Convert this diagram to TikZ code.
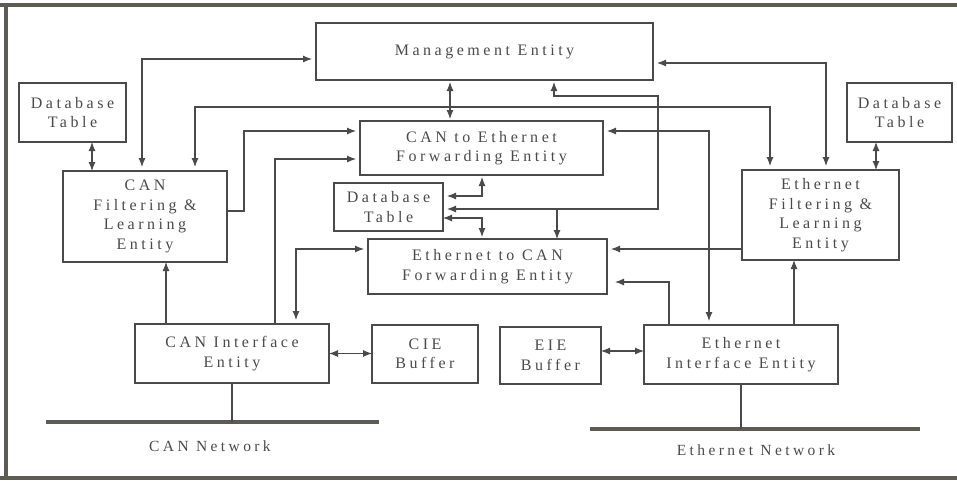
\documentclass[tikz,border=0pt]{standalone}
\usepackage{fontspec}
\newfontfamily\entfont[LetterSpace=22]{Liberation Serif}
\usepackage{tikz}
\usetikzlibrary{arrows.meta}
\definecolor{inkgray}{HTML}{4A4A4A}
\definecolor{framegray}{HTML}{5C5C54}
\tikzset{entity/.style={
        draw=inkgray, line width=1.5pt, inner sep=0pt, outer sep=0pt,
        align=center, text=inkgray,
        font=\entfont\fontsize{16}{19.5}\selectfont
    },
    link/.style={draw=inkgray, line width=1.1pt, >={Latex[length=9pt,width=7pt]}},
    farlink/.style={link, shorten >=4pt},
    bus/.style={draw=framegray, line width=4pt},
    netlabel/.style={text=inkgray, font=\entfont\fontsize{15.5}{18}\selectfont}
}

\begin{document}
\begin{tikzpicture}[x=1pt,y=-1pt]
           \useasboundingbox (0,0) rectangle (957,480);
           \draw[bus] (0,5) -- (957,5);
           \draw[bus] (5.5,3) -- (5.5,478);
           \draw[bus] (0,478) -- (957,478);
           \node[entity,minimum width=337pt,minimum height=57pt] (mgmt) at (484.5,51.5) {Management Entity};
           \node[entity,minimum width=107pt,minimum height=59pt] (dbleft) at (72.5,112.5) {Database\\Table};
           \node[entity,minimum width=105pt,minimum height=59pt] (dbright) at (899.5,112.5) {Database\\Table};
           \node[entity,minimum width=243pt,minimum height=54pt] (cantoeth) at (481.5,148) {CAN to Ethernet\\Forwarding Entity};
           \node[entity,minimum width=164pt,minimum height=91pt] (canfl) at (145,216.5) {CAN\\Filtering \&\\Learning\\Entity};
           \node[entity,minimum width=109pt,minimum height=48pt] (dbmid) at (388.5,207) {Database\\Table};
           \node[entity,minimum width=239pt,minimum height=55pt] (ethtocan) at (487.5,266.5) {Ethernet to CAN\\Forwarding Entity};
           \node[entity,minimum width=157pt,minimum height=90pt] (ethfl) at (820.5,215) {Ethernet\\Filtering \&\\Learning\\Entity};
           \node[entity,minimum width=194pt,minimum height=59pt] (canif) at (232,353.5) {CAN Interface\\Entity};
           \node[entity,minimum width=106pt,minimum height=58pt] (ciebuf) at (425,354) {CIE\\Buffer};
           \node[entity,minimum width=101pt,minimum height=57pt] (eiebuf) at (550.5,355.5) {EIE\\Buffer};
           \node[entity,minimum width=194pt,minimum height=59pt] (ethif) at (741,354.5) {Ethernet\\Interface Entity};
           \coordinate (canbusL) at (46,422);
           \coordinate (canbusR) at (379,422);
           \coordinate (ethbusL) at (590,429);
           \coordinate (ethbusR) at (920,429);
           \draw[bus] (canbusL) -- (canbusR);
           \draw[bus] (ethbusL) -- (ethbusR);
           \node[netlabel] (cannet) at (210,446) {CAN Network};
           \node[netlabel] (ethnet) at (756,450) {Ethernet Network};
           \draw[link] (canif.south) -- (canif.south |- canbusL);
           \draw[link] (ethif.south) -- (ethif.south |- ethbusL);
           % left side
           \draw[farlink,<->,shorten <=4pt] ([xshift=-3pt]canfl.north) |- ([yshift=-7.5pt]mgmt.west);
           \draw[link,<->,shorten <=2pt,shorten >=2pt] ([xshift=-34.5pt]mgmt.south) -- ([xshift=-31.5pt]cantoeth.north);
           \draw[farlink,<->,shorten <=4pt] ([xshift=50pt]canfl.north) -- ++(0,-64) -| ([xshift=-50.5pt]ethfl.north);
           \draw[farlink,->] ([yshift=5.5pt]canfl.east) -- ++(17,0) |- ([yshift=17pt]cantoeth.west);
           \draw[farlink,->] ([xshift=43pt]canif.north) |- ([yshift=-11pt]cantoeth.west);
           \draw[farlink,<->,shorten <=4pt] ([xshift=64pt]canif.north) |- ([yshift=17.5pt]ethtocan.west);
           \draw[link,->] ([xshift=-66pt]canif.north) -- ([xshift=21pt]canfl.south);
           \draw[link,<->] (canif.east) -- (canif.east -| ciebuf.west);
           \draw[link,<->] ([xshift=19.5pt]dbleft.south) -- ([xshift=-53pt]canfl.north);
           % middle database
           \draw[farlink,<->,shorten <=2pt] ([xshift=0.5pt]cantoeth.south) |- ([yshift=11pt]dbmid.east);
           \draw[farlink,<->,shorten >=2pt] ([yshift=-11pt]dbmid.east) -| ([xshift=-5.5pt]ethtocan.north);
           \draw[farlink,<->,shorten <=2pt] ([xshift=69.5pt]mgmt.south) -- ++(0,16) -- ++(104,0) |- ([yshift=-2pt]dbmid.east);
           \draw[link,->] ([xshift=69.5pt,yshift=30pt]ethtocan.north) -- ([xshift=69.5pt]ethtocan.north);
           % right side
           \draw[farlink,<->,shorten <=4pt] ([yshift=-11.5pt]mgmt.east) -| ([xshift=5.5pt]ethfl.north);
           \draw[link,<->] ([xshift=-23.5pt]dbright.south) -- ([xshift=55.5pt]ethfl.north);
           \draw[farlink,<->,shorten <=4pt] ([xshift=-32pt]ethif.north) |- ([yshift=17pt]cantoeth.east);
           \draw[farlink,->] ([yshift=-34pt]ethfl.west) -- ([yshift=17.5pt]ethtocan.east);
           \draw[farlink,->,shorten >=8pt] ([xshift=-72pt]ethif.north) |- ([yshift=-15.5pt]ethtocan.east);
           \draw[link,->] ([xshift=53pt]ethif.north) -- ([xshift=-26.5pt]ethfl.south);
           \draw[link,<->] ([yshift=4.5pt]eiebuf.east) -- ([yshift=3.5pt]ethif.west);
         \end{tikzpicture}
\end{document}
